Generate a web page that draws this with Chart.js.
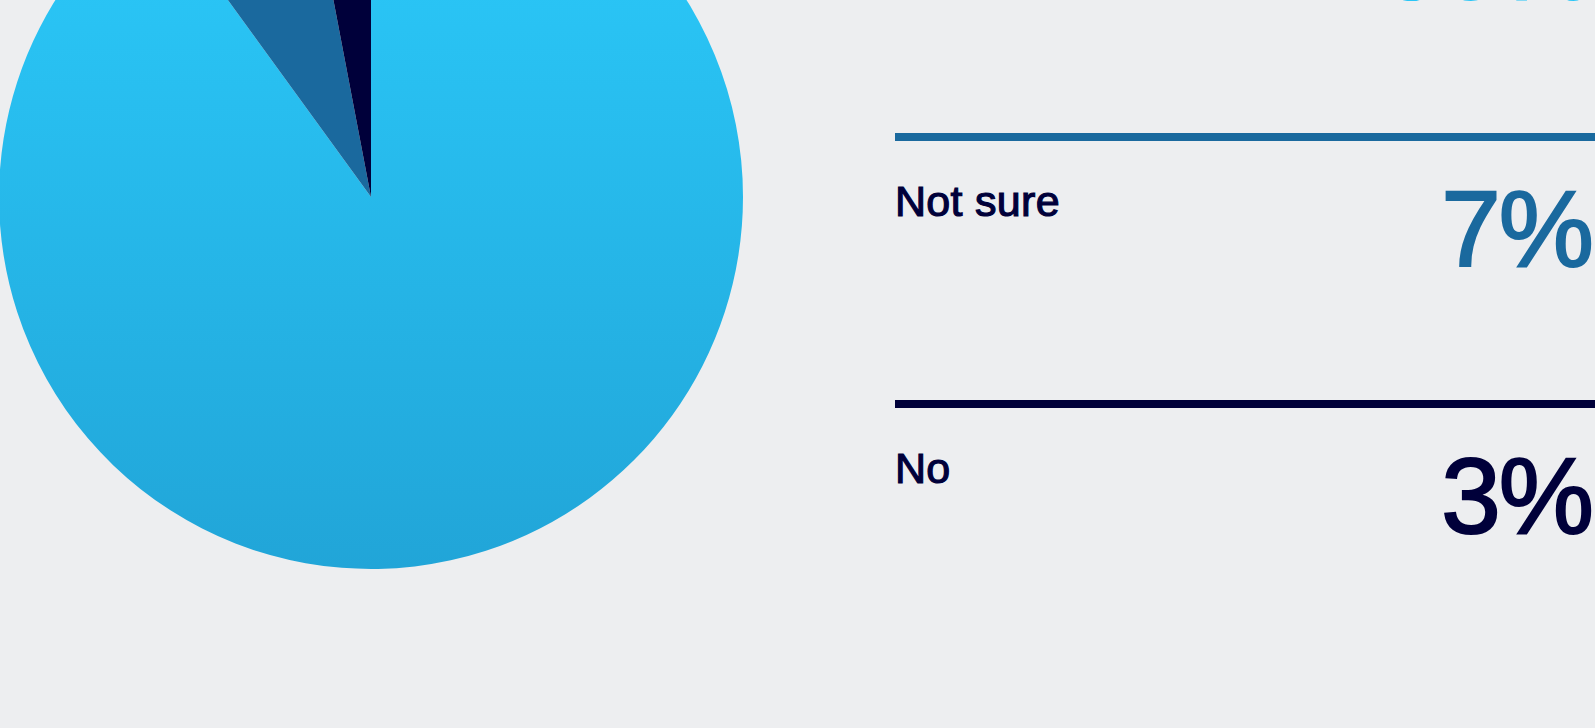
<!DOCTYPE html>
<html>
<head>
<meta charset="utf-8">
<script src="https://cdn.jsdelivr.net/npm/chart.js@4.4.1/dist/chart.umd.min.js"></script>
<style>
html,body{margin:0;padding:0;background:#edeef0;overflow:hidden;width:1595px;height:728px;}
#pieWrap{position:absolute;left:-1px;top:-175px;width:744px;height:744px;}
#legend{position:absolute;left:895px;top:0;width:700px;height:728px;}
.item{position:absolute;left:0;width:700px;height:267px;}
.bar{position:absolute;left:0;top:0;width:700px;height:8px;}
.lbl{position:absolute;left:0;top:47px;font-family:"Liberation Sans",Arial,sans-serif;font-size:43px;line-height:43px;color:#00003a;white-space:nowrap;-webkit-text-stroke:1.2px #00003a;letter-spacing:0.3px;}
.val{position:absolute;right:3px;top:43px;font-family:"Liberation Sans",Arial,sans-serif;font-size:107px;line-height:107px;white-space:nowrap;letter-spacing:-2px;}
</style>
</head>
<body>
<div id="pieWrap"><canvas id="graph"></canvas></div>
<div id="legend"></div>
<script>

const labels=["Yes","Not sure","No"];
const values=[90,7,3];
const colors=["#27bbee","#1a699e","#00003a"];

let chart;

function yesGradient(context){
const c=context.chart;
const area=c.chartArea;
if(!area) return colors[0];
const g=c.ctx.createLinearGradient(0,area.top,0,area.bottom);
g.addColorStop(0,"#2ccdfd");
g.addColorStop(1,"#21a5d8");
return g;
}

function initChart(){

const ctx=document.getElementById("graph");

chart=new Chart(ctx,{
type:'pie',
data:{
labels:labels,
datasets:[{
data:values,
backgroundColor:function(context){
if(context.dataIndex===0) return yesGradient(context);
return colors[context.dataIndex];
},
borderWidth:0,
hoverOffset:0
}]
},
options:{
responsive:true,
maintainAspectRatio:false,
animation:false,
layout:{padding:0},
plugins:{legend:{display:false},tooltip:{enabled:false}}
}
});

}

function buildLegend(){

const box=document.getElementById("legend");
const firstTop=-134;
const step=267;

labels.forEach(function(name,i){
const item=document.createElement("div");
item.className="item";
item.style.top=(firstTop+i*step)+"px";

const bar=document.createElement("div");
bar.className="bar";
bar.style.background=colors[i];

const lbl=document.createElement("div");
lbl.className="lbl";
lbl.innerText=name;

const col=i===0?"#2ac5f6":colors[i];
const val=document.createElement("div");
val.className="val";
val.style.color=col;
val.style.webkitTextStroke="2.2px "+col;
val.innerText=values[i]+"%";

item.appendChild(bar);
item.appendChild(lbl);
item.appendChild(val);
box.appendChild(item);
});

}

initChart();
buildLegend();

</script>
</body>
</html>
